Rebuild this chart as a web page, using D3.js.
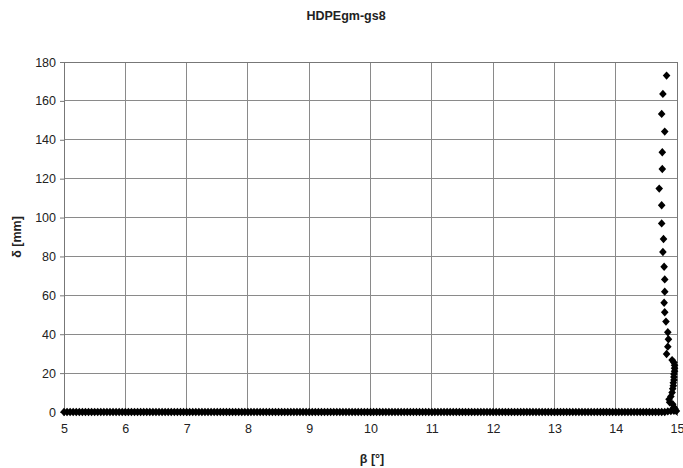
<!DOCTYPE html>
<html>
<head>
<meta charset="utf-8">
<script src="https://cdn.jsdelivr.net/npm/d3@7"></script>
<style>
html,body{margin:0;padding:0;background:#fff;}
svg{display:block;}
text{font-family:"Liberation Sans",Arial,sans-serif;fill:#222;}
</style>
</head>
<body>
<svg id="chart" width="683" height="468"></svg>
<script>
const chartTitle = "HDPEgm-gs8";
const xTitle = "β [°]";
const yTitle = "δ [mm]";
const xTicks = [5,6,7,8,9,10,11,12,13,14,15];
const yTicks = [0,20,40,60,80,100,120,140,160,180];

// flat part of the curve (δ ≈ 0)
const flatBeta = [
5.00,5.05,5.10,5.15,5.20,5.25,5.30,5.35,5.40,5.45,5.50,5.55,5.60,5.65,5.70,5.75,5.80,5.85,5.90,5.95,
6.00,6.05,6.10,6.15,6.20,6.25,6.30,6.35,6.40,6.45,6.50,6.55,6.60,6.65,6.70,6.75,6.80,6.85,6.90,6.95,
7.00,7.05,7.10,7.15,7.20,7.25,7.30,7.35,7.40,7.45,7.50,7.55,7.60,7.65,7.70,7.75,7.80,7.85,7.90,7.95,
8.00,8.05,8.10,8.15,8.20,8.25,8.30,8.35,8.40,8.45,8.50,8.55,8.60,8.65,8.70,8.75,8.80,8.85,8.90,8.95,
9.00,9.05,9.10,9.15,9.20,9.25,9.30,9.35,9.40,9.45,9.50,9.55,9.60,9.65,9.70,9.75,9.80,9.85,9.90,9.95,
10.00,10.05,10.10,10.15,10.20,10.25,10.30,10.35,10.40,10.45,10.50,10.55,10.60,10.65,10.70,10.75,10.80,10.85,10.90,10.95,
11.00,11.05,11.10,11.15,11.20,11.25,11.30,11.35,11.40,11.45,11.50,11.55,11.60,11.65,11.70,11.75,11.80,11.85,11.90,11.95,
12.00,12.05,12.10,12.15,12.20,12.25,12.30,12.35,12.40,12.45,12.50,12.55,12.60,12.65,12.70,12.75,12.80,12.85,12.90,12.95,
13.00,13.05,13.10,13.15,13.20,13.25,13.30,13.35,13.40,13.45,13.50,13.55,13.60,13.65,13.70,13.75,13.80,13.85,13.90,13.95,
14.00,14.05,14.10,14.15,14.20,14.25,14.30,14.35,14.40,14.45,14.50,14.55,14.60,14.65,14.70,14.75,14.80,14.85,14.90,14.95
];
const flatDelta = [
0,0,0,0,0,0,0,0,0,0,0,0,0,0,0,0,0,0,0,0,
0,0,0,0,0,0,0,0,0,0,0,0,0,0,0,0,0,0,0,0,
0,0,0,0,0,0,0,0,0,0,0,0,0,0,0,0,0,0,0,0,
0,0,0,0,0,0,0,0,0,0,0,0,0,0,0,0,0,0,0,0,
0,0,0,0,0,0,0,0,0,0,0,0,0,0,0,0,0,0,0,0,
0,0,0,0,0,0,0,0,0,0,0,0,0,0,0,0,0,0,0,0,
0,0,0,0,0,0,0,0,0,0,0,0,0,0,0,0,0,0,0,0,
0,0,0,0,0,0,0,0,0,0,0,0,0,0,0,0,0,0,0,0,
0,0,0,0,0,0,0,0,0,0,0,0,0,0,0,0,0,0,0,0,
0,0,0,0,0,0,0,0,0,0,0,0,0,0,0,0,0,0.3,0.5,0.6
];

// rising part near β ≈ 15
const riseBeta = [
14.99,14.97,14.95,14.93,14.88,14.87,14.90,14.92,14.93,14.94,14.94,14.95,14.95,14.95,14.96,14.96,14.96,14.95,14.92,
14.83,14.85,14.86,14.85,14.82,14.80,14.79,14.80,14.80,14.79,14.77,14.78,14.75,14.75,14.71,14.76,14.76,14.80,14.75,14.77,14.83
];
const riseDelta = [
0.5,1.5,2.5,4.0,5.0,6.5,8.0,10.0,12.0,13.5,15.0,16.5,18.0,19.5,21.0,22.5,24.0,25.5,26.7,
29.8,33.6,37.4,41.0,46.5,51.3,56.2,61.9,68.2,74.7,82.3,89.0,97.0,106.3,114.9,125.0,133.6,144.2,153.3,163.6,173.0
];

const W = 683, H = 468;
const m = {left:64, top:62, right:6, bottom:56};
const pw = W - m.left - m.right, ph = H - m.top - m.bottom;

const svg = d3.select("#chart");
const g = svg.append("g").attr("transform", `translate(${m.left},${m.top})`);

const x = d3.scaleLinear().domain([5,15]).range([0,pw]);
const y = d3.scaleLinear().domain([0,180]).range([ph,0]);

// grid
g.append("g").selectAll("line").data(yTicks).join("line")
  .attr("x1",0).attr("x2",pw).attr("y1",d=>y(d)).attr("y2",d=>y(d))
  .attr("stroke","#8a8a8a").attr("stroke-width",1).attr("shape-rendering","crispEdges");
g.append("g").selectAll("line").data(xTicks).join("line")
  .attr("y1",0).attr("y2",ph).attr("x1",d=>x(d)).attr("x2",d=>x(d))
  .attr("stroke","#8a8a8a").attr("stroke-width",1).attr("shape-rendering","crispEdges");
g.append("rect").attr("x",0).attr("y",0).attr("width",pw).attr("height",ph)
  .attr("fill","none").attr("stroke","#777").attr("shape-rendering","crispEdges");

// axes
const yAxis = d3.axisLeft(y).tickValues(yTicks).tickSize(4).tickPadding(4);
const xAxis = d3.axisBottom(x).tickValues(xTicks).tickSize(4).tickPadding(8);
const ya = g.append("g").call(yAxis);
const xa = g.append("g").attr("transform",`translate(0,${ph})`).call(xAxis);
[ya,xa].forEach(a=>{
  a.select(".domain").attr("stroke","#777");
  a.selectAll(".tick line").attr("stroke","#777");
  a.selectAll(".tick text").attr("font-family","Liberation Sans, Arial, sans-serif")
    .attr("font-size",12.5).attr("fill","#222");
});

// points (Excel-style diamond marker)
const pts = flatBeta.map((b,i)=>({b, d:flatDelta[i]}))
  .concat(riseBeta.map((b,i)=>({b, d:riseDelta[i]})));
const diamondPath = "M0,-4.2L3.8,0L0,4.2L-3.8,0Z";
g.append("g").selectAll("path").data(pts).join("path")
  .attr("d", diamondPath)
  .attr("transform", d=>`translate(${x(d.b)},${y(d.d)})`)
  .attr("fill","#000");

// titles
svg.append("text").attr("x",346).attr("y",20).attr("text-anchor","middle")
  .attr("font-size",12.5).attr("font-weight","bold").text(chartTitle);
svg.append("text").attr("x",372).attr("y",463).attr("text-anchor","middle")
  .attr("font-size",12.5).attr("font-weight","bold").text(xTitle);
svg.append("text").attr("transform","translate(21,237) rotate(-90)").attr("text-anchor","middle")
  .attr("font-size",12.5).attr("font-weight","bold").text(yTitle);
</script>
</body>
</html>
